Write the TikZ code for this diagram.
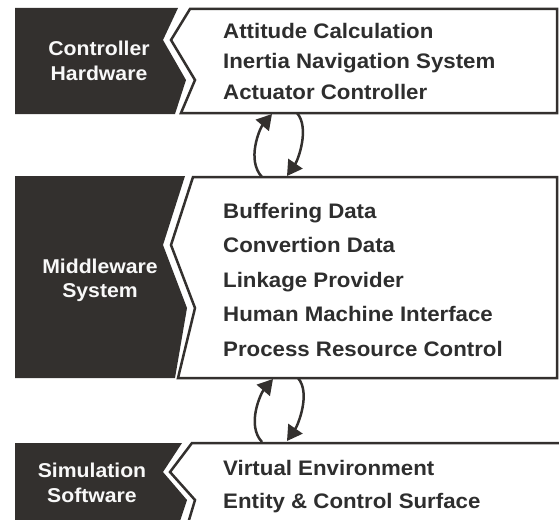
\documentclass[tikz,border=0pt]{standalone}
\usepackage{fontspec}
\setmainfont[FakeStretch=1.06]{Liberation Sans}
\usetikzlibrary{arrows.meta}
\definecolor{dk}{HTML}{33302E}
\definecolor{txt}{HTML}{2E2E2E}
\definecolor{lt}{HTML}{F8F8F8}
\begin{document}
\begin{tikzpicture}[x=1pt,y=-1pt,
  darkblk/.style={fill=dk},
  whitebox/.style={draw=dk, line width=2.5pt, fill=white, line join=miter},
  lefttxt/.style={text=lt, font=\bfseries\fontsize{20}{24}\selectfont, anchor=base, inner sep=0pt},
  righttxt/.style={text=txt, font=\bfseries\fontsize{21}{25}\selectfont, anchor=base west, inner sep=0pt},
  cyc/.style={draw=dk, line width=2.5pt, -{Triangle[length=15pt,width=17pt]}}]
\useasboundingbox (0,0) rectangle (559,519);
\clip (0,0) rectangle (559,519);

% dark blocks
\path[darkblk] (15,8) -- (178,8) -- (163,40) -- (186,80) -- (175,114) -- (15,114) -- cycle;
\path[darkblk] (15,176) -- (185,176) -- (163,245) -- (187,308) -- (175,378) -- (15,378) -- cycle;
\path[darkblk] (15,443) -- (182,443) -- (163,472) -- (187,500) -- (177,530) -- (15,530) -- cycle;

% white boxes
\path[whitebox] (190,9) -- (557,9) -- (557,113) -- (181,113) -- (195,80) -- (171,40) -- cycle;
\path[whitebox] (193,177) -- (557,177) -- (557,378) -- (178,378) -- (195,308) -- (171,245) -- cycle;
\path[whitebox] (192,443) -- (570,443) -- (570,540) -- (183,540) -- (195,500) -- (170,472) -- cycle;

% left labels
\node[lefttxt] (ch1) at (99,56) {Controller};
\node[lefttxt] (ch2) at (99,80) {Hardware};
\node[lefttxt] (ms1) at (100,273) {Middleware};
\node[lefttxt] (ms2) at (100,297) {System};
\node[lefttxt] (ss1) at (92,477) {Simulation};
\node[lefttxt] (ss2) at (92,502) {Software};

% right texts
\node[righttxt] (r11) at (223,39) {Attitude Calculation};
\node[righttxt] (r12) at (223,69) {Inertia Navigation System};
\node[righttxt] (r13) at (223,99) {Actuator Controller};
\node[righttxt] (r21) at (223,218) {Buffering Data};
\node[righttxt] (r22) at (223,252) {Convertion Data};
\node[righttxt] (r23) at (223,287) {Linkage Provider};
\node[righttxt] (r24) at (223,321) {Human Machine Interface};
\node[righttxt] (r25) at (223,356) {Process Resource Control};
\node[righttxt] (r31) at (223,475) {Virtual Environment};
\node[righttxt] (r32) at (223,508) {Entity \& Control Surface};

% arrow end points on the box borders
\coordinate (a1s) at (262,177);
\coordinate (a1e) at (272,114);
\coordinate (b1s) at (297,113);
\coordinate (b1e) at (287,176);
\coordinate (a2s) at (262,442);
\coordinate (a2e) at (273,379);
\coordinate (b2s) at (298,378);
\coordinate (b2e) at (287,441);

\draw[cyc] (a1s) .. controls (246,160) and (260,128) .. (a1e);
\draw[cyc] (b1s) .. controls (310,128) and (298,160) .. (b1e);
\draw[cyc] (a2s) .. controls (246,425) and (261,393) .. (a2e);
\draw[cyc] (b2s) .. controls (311,393) and (298,425) .. (b2e);
\end{tikzpicture}
\end{document}
